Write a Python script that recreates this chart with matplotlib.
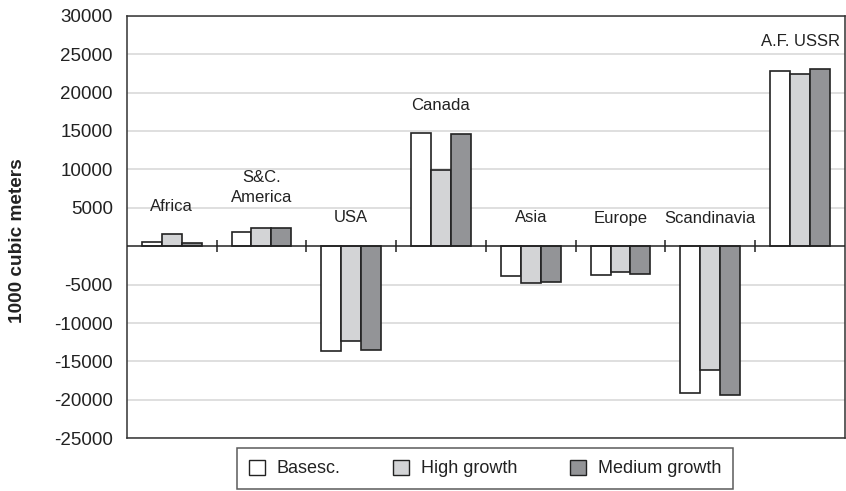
import numpy as np
import matplotlib
matplotlib.use("Agg")
import matplotlib.pyplot as plt
from matplotlib.patches import Patch

plt.rcParams['font.family'] = ['Liberation Sans', 'DejaVu Sans']

regions = ["Africa", "S&C.\nAmerica", "USA", "Canada", "Asia", "Europe",
           "Scandinavia", "A.F. USSR"]
series_names = ["Basesc.", "High growth", "Medium growth"]
basesc = [520, 1820, -13700, 14800, -3920, -3750, -19150, 22840]
high_growth = [1560, 2430, -12340, 9950, -4830, -3300, -16110, 22360]
medium_growth = [430, 2430, -13480, 14560, -4610, -3560, -19350, 23060]
label_heights = [5230, 7640, 3760, 18290, 3760, 3630, 3630, 26700]
y_ticks = [-25000, -20000, -15000, -10000, -5000,
           5000, 10000, 15000, 20000, 25000, 30000]

colors = ["#ffffff", "#d3d4d6", "#939497"]
edge = "#222222"

fig = plt.figure(figsize=(8.46, 4.91), dpi=100)
ax = fig.add_axes([0.1498, 0.1073, 0.9988 - 0.1498, 0.968 - 0.1073])

x = np.arange(len(regions))
w = 0.222
for i, (vals, col) in enumerate(zip([basesc, high_growth, medium_growth], colors)):
    ax.bar(x + (i - 1) * w, vals, width=w, color=col, edgecolor=edge,
           linewidth=1.2, zorder=3)

ax.set_xlim(-0.5, len(regions) - 0.5)
ax.set_ylim(-25000, 30000)
ax.set_yticks(y_ticks)
ax.set_yticklabels([str(t) for t in y_ticks])
ax.tick_params(axis='y', length=0, pad=10, labelsize=13.5, labelcolor="#222222")
ax.set_xticks([])
ax.yaxis.grid(True, color="#d9d9d9", linewidth=1.2, zorder=0)
ax.set_axisbelow(True)
for s in ax.spines.values():
    s.set_color("#333333")
    s.set_linewidth(1.1)

# zero axis with category separators
ax.axhline(0, color="#222222", linewidth=1.1, zorder=4)
bounds = np.arange(len(regions) - 1) + 0.5
ax.plot(bounds, np.zeros_like(bounds), ls='none', marker='|', ms=9,
        mew=1.1, color="#222222", zorder=4)

for xi, name, yh in zip(x, regions, label_heights):
    ax.text(xi, yh, name, ha='center', va='center', fontsize=12,
            color="#222222", linespacing=1.45, zorder=5)

fig.text(17.5 / 846, 1 - 240.5 / 491, "1000 cubic meters", rotation=90,
         ha='center', va='center', fontsize=13.7, fontweight='bold',
         color="#222222")

handles = [Patch(facecolor=c, edgecolor=edge, linewidth=1.0) for c in colors]
leg = fig.legend(handles, series_names, loc='center', ncol=3,
                 bbox_to_anchor=(485 / 846, 1 - 468.5 / 491),
                 fontsize=13, frameon=True, fancybox=False,
                 handlelength=0.9, handleheight=0.9, handletextpad=0.65,
                 columnspacing=2.9, borderpad=0.65, borderaxespad=0)
leg.get_frame().set_edgecolor("#333333")
leg.get_frame().set_linewidth(1.1)
for t in leg.get_texts():
    t.set_color("#222222")

fig.savefig("out.png", dpi=100)
